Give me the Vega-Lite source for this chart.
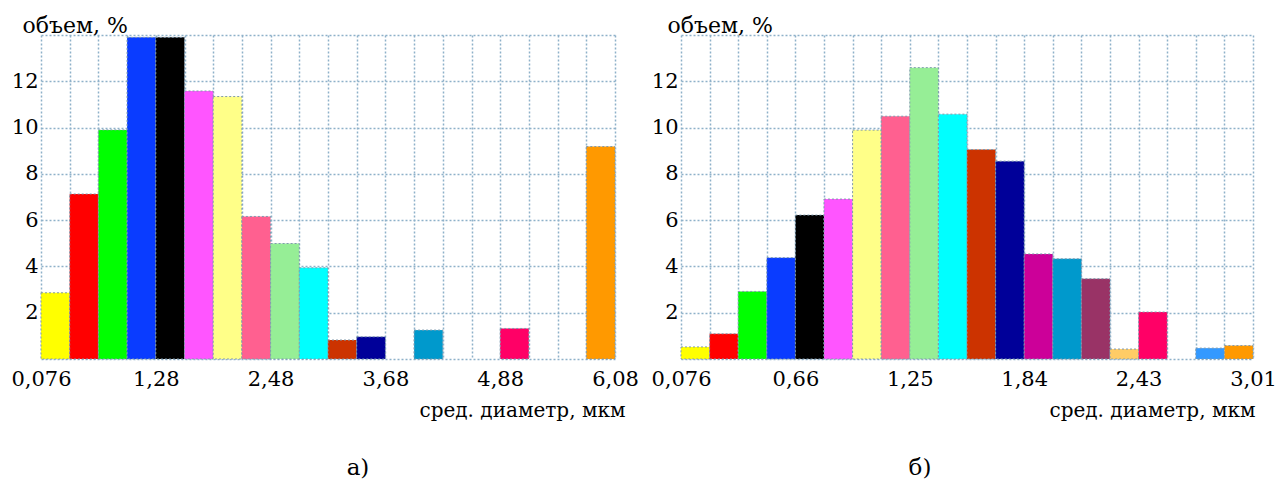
{
  "$schema": "https://vega.github.io/schema/vega-lite/v6.json",
  "padding": {"left": 0, "top": 14, "right": 0, "bottom": 0},
  "background": "#ffffff",
  "bounds": "flush",
  "spacing": 66,
  "config": {
    "font": "DejaVu Serif",
    "view": {"stroke": null},
    "axis": {
      "domain": false,
      "ticks": false,
      "grid": true,
      "gridColor": "#8eb1c9",
      "gridDash": [2, 2],
      "gridWidth": 1.5,
      "labelFont": "DejaVu Serif",
      "labelFontSize": 21,
      "labelColor": "#000000",
      "labelOverlap": false,
      "labelFlush": false,
      "titleFont": "DejaVu Serif",
      "titleFontSize": 20,
      "titleFontWeight": "normal",
      "titleColor": "#000000"
    },
    "title": {"font": "DejaVu Serif", "fontSize": 23, "fontWeight": "normal", "color": "#000000"}
  },
  "datasets": {
    "a": [
      {"bin": 1, "lo": 0.076, "hi": 0.376, "v": 2.86},
      {"bin": 2, "lo": 0.376, "hi": 0.676, "v": 7.13},
      {"bin": 3, "lo": 0.676, "hi": 0.976, "v": 9.9},
      {"bin": 4, "lo": 0.976, "hi": 1.276, "v": 13.9},
      {"bin": 5, "lo": 1.276, "hi": 1.576, "v": 13.9},
      {"bin": 6, "lo": 1.576, "hi": 1.876, "v": 11.58},
      {"bin": 7, "lo": 1.876, "hi": 2.176, "v": 11.34},
      {"bin": 8, "lo": 2.176, "hi": 2.476, "v": 6.16},
      {"bin": 9, "lo": 2.476, "hi": 2.776, "v": 4.99},
      {"bin": 10, "lo": 2.776, "hi": 3.076, "v": 3.94},
      {"bin": 11, "lo": 3.076, "hi": 3.376, "v": 0.82},
      {"bin": 12, "lo": 3.376, "hi": 3.676, "v": 0.96},
      {"bin": 14, "lo": 3.976, "hi": 4.276, "v": 1.25},
      {"bin": 17, "lo": 4.876, "hi": 5.176, "v": 1.32},
      {"bin": 20, "lo": 5.776, "hi": 6.076, "v": 9.18}
    ],
    "b": [
      {"bin": 1, "lo": 0.076, "hi": 0.2227, "v": 0.52},
      {"bin": 2, "lo": 0.2227, "hi": 0.3694, "v": 1.09},
      {"bin": 3, "lo": 0.3694, "hi": 0.5161, "v": 2.92},
      {"bin": 4, "lo": 0.5161, "hi": 0.6628, "v": 4.38},
      {"bin": 5, "lo": 0.6628, "hi": 0.8095, "v": 6.22},
      {"bin": 6, "lo": 0.8095, "hi": 0.9562, "v": 6.91},
      {"bin": 7, "lo": 0.9562, "hi": 1.1029, "v": 9.89},
      {"bin": 8, "lo": 1.1029, "hi": 1.2496, "v": 10.49},
      {"bin": 9, "lo": 1.2496, "hi": 1.3963, "v": 12.59},
      {"bin": 10, "lo": 1.3963, "hi": 1.543, "v": 10.58},
      {"bin": 11, "lo": 1.543, "hi": 1.6897, "v": 9.05},
      {"bin": 12, "lo": 1.6897, "hi": 1.8364, "v": 8.55},
      {"bin": 13, "lo": 1.8364, "hi": 1.9831, "v": 4.54},
      {"bin": 14, "lo": 1.9831, "hi": 2.1298, "v": 4.33},
      {"bin": 15, "lo": 2.1298, "hi": 2.2765, "v": 3.47},
      {"bin": 16, "lo": 2.2765, "hi": 2.4232, "v": 0.43},
      {"bin": 17, "lo": 2.4232, "hi": 2.5699, "v": 2.03},
      {"bin": 19, "lo": 2.7166, "hi": 2.8633, "v": 0.47},
      {"bin": 20, "lo": 2.8633, "hi": 3.01, "v": 0.58}
    ]
  },
  "hconcat": [
    {
      "width": 574,
      "height": 324,
      "title": {"text": "а)", "orient": "bottom", "dx": 30, "offset": 37},
      "data": {"name": "a"},
      "mark": {"type": "bar", "stroke": "#7f9aad", "strokeDash": [2, 2], "strokeWidth": 1},
      "encoding": {
        "x": {
          "field": "lo", "type": "quantitative",
          "scale": {"domain": [0.076, 6.076], "nice": false, "zero": false},
          "axis": {
            "values": [0.076, 0.376, 0.676, 0.976, 1.276, 1.576, 1.876, 2.176, 2.476, 2.776, 3.076, 3.376, 3.676, 3.976, 4.276, 4.576, 4.876, 5.176, 5.476, 5.776, 6.076],
            "labelExpr": "round((datum.value-0.076)/0.3)%4==0 ? ['0,076','1,28','2,48','3,68','4,88','6,08'][round((datum.value-0.076)/0.3)/4] : ''",
            "labelPadding": 9,
            "title": "сред. диаметр, мкм",
            "titleX": 584, "titleY": 57, "titleAlign": "right", "titleBaseline": "alphabetic"
          }
        },
        "x2": {"field": "hi"},
        "y": {
          "field": "v", "type": "quantitative",
          "scale": {"domain": [0, 14], "nice": false},
          "axis": {
            "values": [0, 2, 4, 6, 8, 10, 12, 14],
            "labelExpr": "datum.value==0 || datum.value==14 ? '' : datum.label",
            "labelPadding": 3,
            "minExtent": 41, "maxExtent": 41,
            "title": "объем, %",
            "titleFontSize": 22,
            "titleAngle": 0, "titleX": -19, "titleY": -3, "titleAlign": "left", "titleBaseline": "alphabetic"
          }
        },
        "y2": {"datum": 0},
        "color": {
          "field": "bin", "type": "ordinal", "legend": null,
          "scale": {
            "domain": [1, 2, 3, 4, 5, 6, 7, 8, 9, 10, 11, 12, 13, 14, 15, 16, 17, 18, 19, 20],
            "range": ["#ffff00", "#ff0000", "#00ff00", "#0a3cff", "#000000", "#ff55ff", "#ffff88", "#ff6090", "#96ee96", "#00ffff", "#cc3300", "#000099", "#cc0099", "#0099cc", "#993366", "#ffcc66", "#ff0066", "#999999", "#3399ff", "#ff9900"]
          }
        }
      }
    },
    {
      "width": 572,
      "height": 324,
      "title": {"text": "б)", "orient": "bottom", "dx": -47, "offset": 37},
      "data": {"name": "b"},
      "mark": {"type": "bar", "stroke": "#7f9aad", "strokeDash": [2, 2], "strokeWidth": 1},
      "encoding": {
        "x": {
          "field": "lo", "type": "quantitative",
          "scale": {"domain": [0.076, 3.01], "nice": false, "zero": false},
          "axis": {
            "values": [0.076, 0.2227, 0.3694, 0.5161, 0.6628, 0.8095, 0.9562, 1.1029, 1.2496, 1.3963, 1.543, 1.6897, 1.8364, 1.9831, 2.1298, 2.2765, 2.4232, 2.5699, 2.7166, 2.8633, 3.01],
            "labelExpr": "round((datum.value-0.076)/0.1467)%4==0 ? ['0,076','0,66','1,25','1,84','2,43','3,01'][round((datum.value-0.076)/0.1467)/4] : ''",
            "labelPadding": 9,
            "title": "сред. диаметр, мкм",
            "titleX": 574, "titleY": 57, "titleAlign": "right", "titleBaseline": "alphabetic"
          }
        },
        "x2": {"field": "hi"},
        "y": {
          "field": "v", "type": "quantitative",
          "scale": {"domain": [0, 14], "nice": false},
          "axis": {
            "values": [0, 2, 4, 6, 8, 10, 12, 14],
            "labelExpr": "datum.value==0 || datum.value==14 ? '' : datum.label",
            "labelPadding": 3,
            "minExtent": 41, "maxExtent": 41,
            "title": "объем, %",
            "titleFontSize": 22,
            "titleAngle": 0, "titleX": -14, "titleY": -3, "titleAlign": "left", "titleBaseline": "alphabetic"
          }
        },
        "y2": {"datum": 0},
        "color": {
          "field": "bin", "type": "ordinal", "legend": null,
          "scale": {
            "domain": [1, 2, 3, 4, 5, 6, 7, 8, 9, 10, 11, 12, 13, 14, 15, 16, 17, 18, 19, 20],
            "range": ["#ffff00", "#ff0000", "#00ff00", "#0a3cff", "#000000", "#ff55ff", "#ffff88", "#ff6090", "#96ee96", "#00ffff", "#cc3300", "#000099", "#cc0099", "#0099cc", "#993366", "#ffcc66", "#ff0066", "#999999", "#3399ff", "#ff9900"]
          }
        }
      }
    }
  ]
}
